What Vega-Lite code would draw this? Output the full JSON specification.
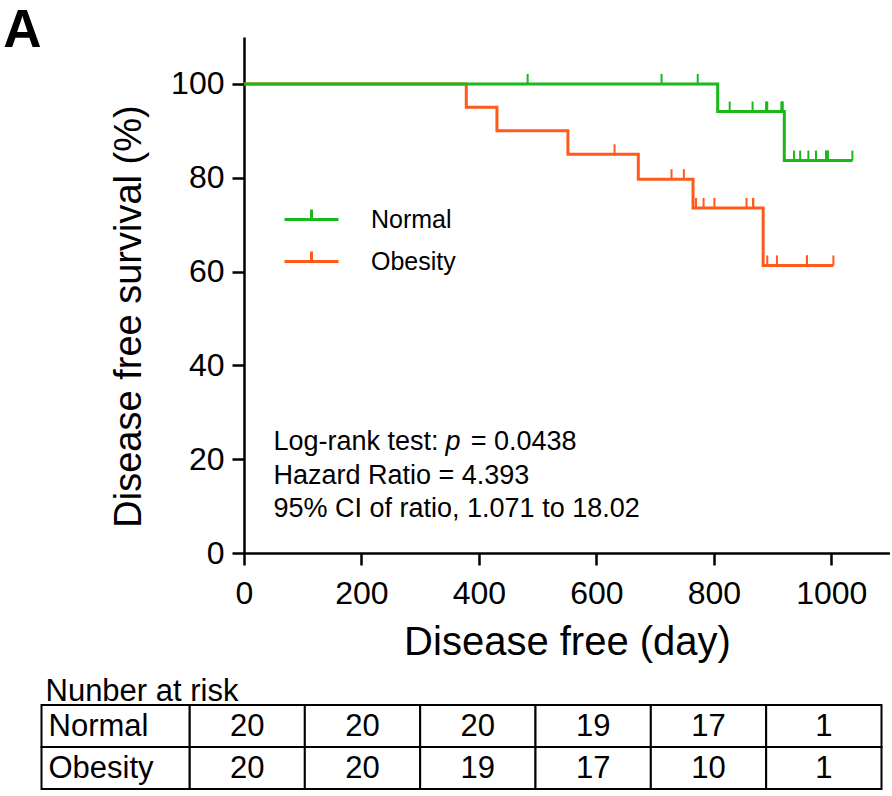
{
  "$schema": "https://vega.github.io/schema/vega-lite/v6.json",
  "padding": {"left": 3, "top": 4, "right": 0, "bottom": 0},
  "background": "white",
  "config": {
    "font": "Liberation Sans",
    "view": {"stroke": null},
    "axis": {
      "domainColor": "black", "domainWidth": 2.5,
      "tickColor": "black", "tickWidth": 2.5, "tickSize": 12,
      "labelColor": "black", "titleColor": "black", "grid": false,
      "labelFont": "Liberation Sans", "titleFont": "Liberation Sans",
      "titleFontWeight": "normal"
    }
  },
  "datasets": {
    "curve": [
      {"group": "Obesity", "day": 0, "surv": 100},
      {"group": "Obesity", "day": 378.5, "surv": 95},
      {"group": "Obesity", "day": 430.7, "surv": 90},
      {"group": "Obesity", "day": 551.6, "surv": 85},
      {"group": "Obesity", "day": 671.4, "surv": 79.69},
      {"group": "Obesity", "day": 764.6, "surv": 73.56},
      {"group": "Obesity", "day": 884, "surv": 61.3},
      {"group": "Obesity", "day": 1003.6, "surv": 61.3},
      {"group": "Normal", "day": 0, "surv": 100},
      {"group": "Normal", "day": 806.6, "surv": 94.12},
      {"group": "Normal", "day": 920, "surv": 83.66},
      {"group": "Normal", "day": 1036, "surv": 83.66}
    ],
    "censor": [
      {"group": "Obesity", "day": 631, "surv": 85},
      {"group": "Obesity", "day": 728, "surv": 79.69},
      {"group": "Obesity", "day": 749, "surv": 79.69},
      {"group": "Obesity", "day": 769.7, "surv": 73.56},
      {"group": "Obesity", "day": 782.6, "surv": 73.56},
      {"group": "Obesity", "day": 801, "surv": 73.56},
      {"group": "Obesity", "day": 855.7, "surv": 73.56},
      {"group": "Obesity", "day": 867, "surv": 73.56},
      {"group": "Obesity", "day": 867, "surv": 73.56},
      {"group": "Obesity", "day": 891, "surv": 61.3},
      {"group": "Obesity", "day": 907.5, "surv": 61.3},
      {"group": "Obesity", "day": 958.6, "surv": 61.3},
      {"group": "Obesity", "day": 958.6, "surv": 61.3},
      {"group": "Obesity", "day": 1003.6, "surv": 61.3},
      {"group": "Normal", "day": 483, "surv": 100},
      {"group": "Normal", "day": 711, "surv": 100},
      {"group": "Normal", "day": 772.6, "surv": 100},
      {"group": "Normal", "day": 827, "surv": 94.12},
      {"group": "Normal", "day": 866, "surv": 94.12},
      {"group": "Normal", "day": 889, "surv": 94.12},
      {"group": "Normal", "day": 891, "surv": 94.12},
      {"group": "Normal", "day": 915, "surv": 94.12},
      {"group": "Normal", "day": 917, "surv": 94.12},
      {"group": "Normal", "day": 917, "surv": 94.12},
      {"group": "Normal", "day": 936.6, "surv": 83.66},
      {"group": "Normal", "day": 947, "surv": 83.66},
      {"group": "Normal", "day": 961, "surv": 83.66},
      {"group": "Normal", "day": 974, "surv": 83.66},
      {"group": "Normal", "day": 991, "surv": 83.66},
      {"group": "Normal", "day": 994, "surv": 83.66},
      {"group": "Normal", "day": 994, "surv": 83.66},
      {"group": "Normal", "day": 1036, "surv": 83.66}
    ],
    "notes": [
      {"day": 50.2, "surv": 22.0, "label": "Log-rank test: ", "italic": false},
      {"day": 343, "surv": 22.0, "label": "p", "italic": true},
      {"day": 386, "surv": 22.0, "label": "= 0.0438", "italic": false},
      {"day": 50.2, "surv": 14.8, "label": "Hazard Ratio = 4.393", "italic": false},
      {"day": 50.2, "surv": 7.6, "label": "95% CI of ratio, 1.071 to 18.02", "italic": false}
    ],
    "panel": [
      {"day": -410, "surv": 107.9, "label": "A"}
    ],
    "risk": [
      {"group": "Normal", "time": 0, "n": 20},
      {"group": "Normal", "time": 200, "n": 20},
      {"group": "Normal", "time": 400, "n": 20},
      {"group": "Normal", "time": 600, "n": 19},
      {"group": "Normal", "time": 800, "n": 17},
      {"group": "Normal", "time": 1000, "n": 1},
      {"group": "Obesity", "time": 0, "n": 20},
      {"group": "Obesity", "time": 200, "n": 20},
      {"group": "Obesity", "time": 400, "n": 19},
      {"group": "Obesity", "time": 600, "n": 17},
      {"group": "Obesity", "time": 800, "n": 10},
      {"group": "Obesity", "time": 1000, "n": 1}
    ],
    "rowlabels": [
      {"group": "Normal", "col": "label"},
      {"group": "Obesity", "col": "label"}
    ]
  },
  "spacing": 14,
  "vconcat": [
    {
      "width": 646,
      "height": 516,
      "layer": [
        {
          "data": {"name": "curve"},
          "mark": {"type": "line", "interpolate": "step-after", "strokeWidth": 3},
          "encoding": {
            "x": {
              "field": "day", "type": "quantitative",
              "scale": {"domain": [0, 1100], "nice": false},
              "axis": {
                "values": [0, 200, 400, 600, 800, 1000],
                "format": "d",
                "title": "Disease free (day)",
                "titleFontSize": 40, "labelFontSize": 32,
                "labelPadding": 13, "titlePadding": 13,
                "labelFlush": false, "labelOverlap": false
              }
            },
            "y": {
              "field": "surv", "type": "quantitative",
              "scale": {"domain": [0, 110], "nice": false},
              "axis": {
                "values": [0, 20, 40, 60, 80, 100],
                "title": "Disease free survival (%)",
                "titleFontSize": 38, "labelFontSize": 32,
                "labelPadding": 8, "titlePadding": 22,
                "titleY": 279
              }
            },
            "color": {
              "field": "group", "type": "nominal",
              "scale": {"domain": ["Normal", "Obesity"], "range": ["#19b919", "#ff5a1a"]},
              "legend": {
                "title": null, "orient": "none", "legendX": 39, "legendY": 154,
                "symbolType": "M-1,0L1,0M0,0L0,-0.37",
                "symbolSize": 2916, "symbolStrokeWidth": 3,
                "symbolOpacity": 1,
                "symbolFillColor": "transparent",
                "labelFontSize": 25, "labelFont": "Liberation Sans",
                "labelColor": "black", "labelOffset": 31,
                "rowPadding": 0, "padding": 0
              }
            }
          }
        },
        {
          "data": {"name": "censor"},
          "mark": {"type": "tick", "orient": "vertical", "size": 10, "thickness": 2, "yOffset": -5, "opacity": 1},
          "encoding": {
            "x": {"field": "day", "type": "quantitative"},
            "y": {"field": "surv", "type": "quantitative"},
            "color": {"field": "group", "type": "nominal"}
          }
        },
        {
          "data": {"name": "notes"},
          "transform": [{"filter": "datum.italic == false"}],
          "mark": {"type": "text", "align": "left", "baseline": "alphabetic", "fontSize": 27, "color": "black"},
          "encoding": {
            "x": {"field": "day", "type": "quantitative"},
            "y": {"field": "surv", "type": "quantitative"},
            "text": {"field": "label"}
          }
        },
        {
          "data": {"name": "notes"},
          "transform": [{"filter": "datum.italic == true"}],
          "mark": {"type": "text", "align": "left", "baseline": "alphabetic", "fontSize": 27, "fontStyle": "italic", "color": "black"},
          "encoding": {
            "x": {"field": "day", "type": "quantitative"},
            "y": {"field": "surv", "type": "quantitative"},
            "text": {"field": "label"}
          }
        },
        {
          "data": {"name": "panel"},
          "mark": {"type": "text", "align": "left", "baseline": "alphabetic", "fontSize": 53, "fontWeight": "bold", "color": "black"},
          "encoding": {
            "x": {"field": "day", "type": "quantitative"},
            "y": {"field": "surv", "type": "quantitative"},
            "text": {"field": "label"}
          }
        }
      ]
    },
    {
      "width": 646,
      "height": 84,
      "title": {
        "text": "Nunber at risk", "anchor": "start", "frame": "group", "orient": "top",
        "dx": -198.5, "offset": -28, "baseline": "alphabetic",
        "fontSize": 31, "fontWeight": "normal", "font": "Liberation Sans", "color": "black"
      },
      "resolve": {"scale": {"x": "independent"}},
      "layer": [
        {
          "data": {"name": "risk"},
          "mark": {"type": "rect", "fill": "white", "stroke": "black", "strokeWidth": 2},
          "encoding": {
            "x": {"field": "time", "type": "ordinal", "scale": {"range": [-54.5, 637.5], "paddingInner": 0, "paddingOuter": 0}, "axis": null},
            "y": {"field": "group", "type": "nominal", "scale": {"domain": ["Normal", "Obesity"], "paddingInner": 0, "paddingOuter": 0}, "axis": null}
          }
        },
        {
          "data": {"name": "risk"},
          "mark": {"type": "text", "fontSize": 31, "baseline": "middle", "dy": 1, "color": "black"},
          "encoding": {
            "x": {"field": "time", "type": "ordinal", "scale": {"range": [-54.5, 637.5], "paddingInner": 0, "paddingOuter": 0}, "axis": null},
            "y": {"field": "group", "type": "nominal", "axis": null},
            "text": {"field": "n"}
          }
        },
        {
          "data": {"name": "rowlabels"},
          "mark": {"type": "rect", "fill": "white", "stroke": "black", "strokeWidth": 2},
          "encoding": {
            "x": {"field": "col", "type": "nominal", "scale": {"range": [-202.5, -54.5], "paddingInner": 0, "paddingOuter": 0}, "axis": null},
            "y": {"field": "group", "type": "nominal", "axis": null}
          }
        },
        {
          "data": {"name": "rowlabels"},
          "mark": {"type": "text", "fontSize": 31, "baseline": "middle", "align": "left", "dx": -67, "dy": 1, "color": "black"},
          "encoding": {
            "x": {"field": "col", "type": "nominal", "scale": {"range": [-202.5, -54.5], "paddingInner": 0, "paddingOuter": 0}, "axis": null},
            "y": {"field": "group", "type": "nominal", "axis": null},
            "text": {"field": "group"}
          }
        }
      ]
    }
  ]
}
